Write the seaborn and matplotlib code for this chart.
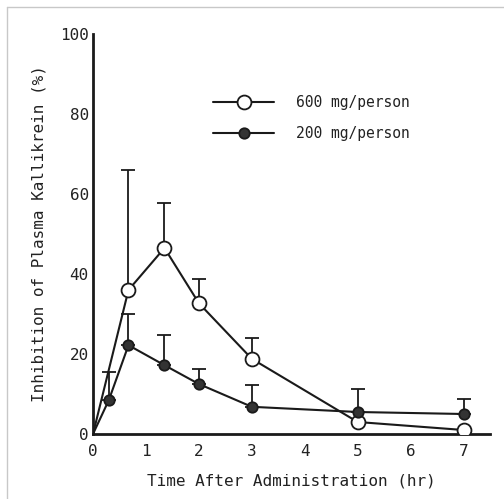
import matplotlib
matplotlib.use("Agg")
import matplotlib.pyplot as plt
import seaborn as sns
import numpy as np
import pandas as pd
from matplotlib.lines import Line2D

# ---- data ----
time_600 = [0, 0.67, 1.35, 2, 3, 5, 7]
inh_600 = [0, 36, 46.5, 32.7, 18.8, 3, 1]
err_600 = [0, 30, 11.2, 6, 5.2, 0, 0]

time_200 = [0, 0.3, 0.67, 1.35, 2, 3, 5, 7]
inh_200 = [0, 8.5, 22.2, 17.2, 12.5, 6.8, 5.5, 5]
err_200 = [0, 7, 7.8, 7.6, 3.8, 5.5, 5.7, 3.8]

x_ticks = [0, 1, 2, 3, 4, 5, 6, 7]
y_ticks = [0, 20, 40, 60, 80, 100]
label_600 = "600 mg/person"
label_200 = "200 mg/person"
x_label = "Time After Administration (hr)"
y_label = "Inhibition of Plasma Kallikrein (%)"

sns.set_theme(style="white")
plt.rcParams['font.family'] = ['DejaVu Sans Mono', 'DejaVu Sans']

W, H = 504, 499
fig = plt.figure(figsize=(W / 100, H / 100), dpi=100)
ax = fig.add_axes([93 / W, 1 - 434 / H, (490 - 93) / W, 400 / H])

ink = '#1a1a1a'

def draw_err(t, m, e):
    t = np.array(t); m = np.array(m); e = np.array(e)
    keep = e > 0
    ax.errorbar(t[keep], m[keep], yerr=[np.zeros(keep.sum()), e[keep]],
                fmt='none', ecolor=ink, elinewidth=1.3, capsize=5,
                capthick=1.3, zorder=1)

draw_err(time_600, inh_600, err_600)
draw_err(time_200, inh_200, err_200)

df600 = pd.DataFrame({"t": time_600, "v": inh_600})
df200 = pd.DataFrame({"t": time_200, "v": inh_200})

# no marker at the origin (lines just start there)
sns.lineplot(data=df600, x="t", y="v", ax=ax, color=ink, linewidth=1.5,
             marker='o', markersize=10, markerfacecolor='white',
             markeredgecolor=ink, markeredgewidth=1.3, zorder=3, label=label_600,
             markevery=list(range(1, len(time_600))))
sns.lineplot(data=df200, x="t", y="v", ax=ax, color=ink, linewidth=1.5,
             marker='o', markersize=7.5, markerfacecolor='#333333',
             markeredgecolor=ink, markeredgewidth=1.3, zorder=4, label=label_200,
             markevery=list(range(1, len(time_200))))

ax.set_xlim(0, 7.5)
ax.set_ylim(0, 100)
ax.set_xticks(x_ticks)
ax.set_yticks(y_ticks)
ax.set_xticklabels([str(v) for v in x_ticks])
ax.set_yticklabels([str(v) for v in y_ticks])

for s in ['top', 'right']:
    ax.spines[s].set_visible(False)
for s in ['left', 'bottom']:
    ax.spines[s].set_color(ink)
    ax.spines[s].set_linewidth(2.0)

ax.tick_params(axis='both', direction='in', length=5, width=1.5, colors=ink,
               labelsize=11.5, labelcolor='#222222')
ax.tick_params(axis='x', pad=7)
ax.tick_params(axis='y', pad=3)
ax.set_xlabel(x_label, fontsize=11.5, color='#222222', labelpad=11)
ax.set_ylabel(y_label, fontsize=11.5, color='#222222', labelpad=10)

leg = ax.legend(loc='upper left', bbox_to_anchor=((213 - 93) / 397, (434 - 95) / 400),
                frameon=False, fontsize=10.5, handlelength=4.2, handletextpad=1.5,
                labelspacing=1.1, borderpad=0, borderaxespad=0, numpoints=1)
for txt in leg.get_texts():
    txt.set_color('#222222')
for h in leg.legend_handles:
    n = len(h.get_xdata())
    h.set_markevery([n // 2])

# light gray frame lines on the left and top of the image
fig.add_artist(Line2D([7 / W, 7 / W], [0, 1 - 7 / H], color='#c8c8c8', linewidth=1,
                      transform=fig.transFigure))
fig.add_artist(Line2D([7 / W, 1], [1 - 7 / H, 1 - 7 / H], color='#c8c8c8', linewidth=1,
                      transform=fig.transFigure))

fig.savefig("out.png", dpi=100)
